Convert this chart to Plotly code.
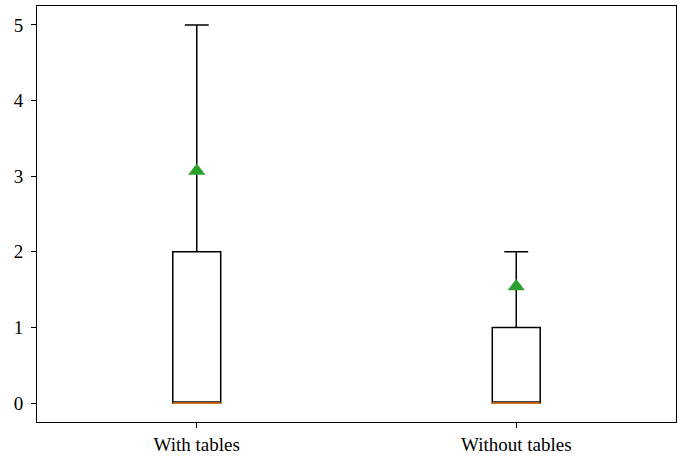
import plotly.graph_objects as go

categories = ["With tables", "Without tables"]
positions = [1, 2]
q1 = [0, 0]
median = [0, 0]
q3 = [2, 1]
lower = [0, 0]
upper = [5, 2]
means = [3.07, 1.54]

box_width = 0.15

fig = go.Figure()
for i in range(2):
    fig.add_trace(go.Box(
        x=[positions[i]], q1=[q1[i]], median=[median[i]], q3=[q3[i]],
        lowerfence=[lower[i]], upperfence=[upper[i]],
        width=box_width, whiskerwidth=0.5,
        line=dict(color="black", width=1.5), fillcolor="rgba(0,0,0,0)",
        showlegend=False, hoverinfo="skip", boxpoints=False,
    ))
    fig.add_trace(go.Scatter(
        x=[positions[i] - box_width / 2, positions[i] + box_width / 2],
        y=[median[i], median[i]], mode="lines",
        line=dict(color="#ff7f0e", width=1.5), showlegend=False, hoverinfo="skip",
    ))

fig.add_trace(go.Scatter(
    x=positions, y=means, mode="markers",
    marker=dict(symbol="triangle-up", color="#2ca02c", size=15, line=dict(width=0)),
    showlegend=False,
))

tick_font = dict(family="Liberation Serif", size=19, color="black")
fig.update_layout(
    width=683, height=457,
    margin=dict(l=37, r=7, t=6, b=35),
    paper_bgcolor="white", plot_bgcolor="white",
    font=tick_font,
)
fig.update_xaxes(
    range=[0.5, 2.5], tickvals=positions, ticktext=categories, tickfont=tick_font,
    showgrid=False, zeroline=False, showline=True, linecolor="black", linewidth=1, mirror=True,
    ticks="outside", ticklen=5, tickcolor="black", automargin=False,
)
fig.update_yaxes(
    range=[-0.25, 5.25], tickvals=[0, 1, 2, 3, 4, 5], tickfont=tick_font,
    showgrid=False, zeroline=False, showline=True, linecolor="black", linewidth=1, mirror=True,
    ticks="outside", ticklen=5, tickcolor="black", automargin=False, ticklabelstandoff=4,
)
fig.write_html(
    "out.html",
    config={"displayModeBar": False},
    post_script="document.body.style.margin='0';document.body.style.overflow='hidden';",
)
